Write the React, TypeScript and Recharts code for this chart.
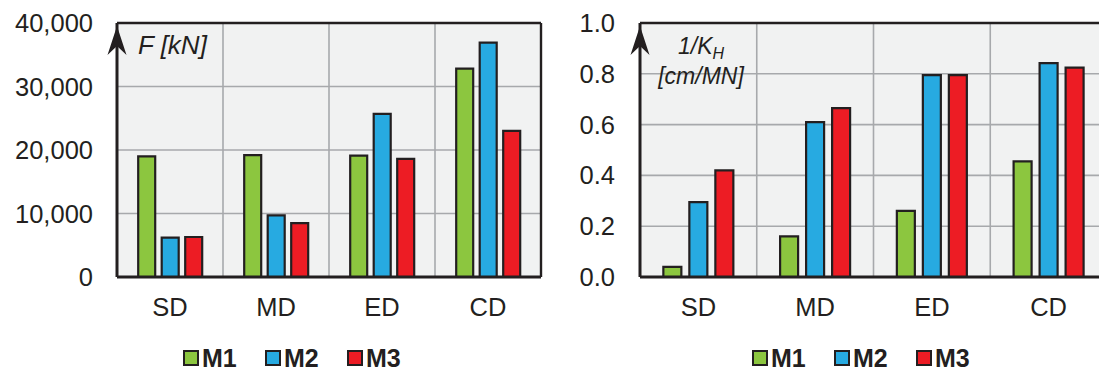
import React from 'react';
import { BarChart, Bar, XAxis, YAxis, CartesianGrid, Legend, ReferenceLine } from 'recharts';

const categories = ['SD', 'MD', 'ED', 'CD'];
const seriesNames = ['M1', 'M2', 'M3'];

const forceM1 = [19000, 19200, 19100, 32800];
const forceM2 = [6200, 9700, 25700, 36900];
const forceM3 = [6300, 8500, 18600, 23000];

const flexM1 = [0.04, 0.16, 0.26, 0.455];
const flexM2 = [0.295, 0.61, 0.795, 0.842];
const flexM3 = [0.42, 0.665, 0.795, 0.824];

const forceTicks = [0, 10000, 20000, 30000, 40000];
const flexTicks = [0, 0.2, 0.4, 0.6, 0.8, 1.0];
const bandEdges = [0, 1, 2, 3, 4];

const forceTitle = 'F [kN]';
const flexTitleMain = '1/K';
const flexTitleSub = 'H';
const flexTitleUnit = '[cm/MN]';

const COLORS = ['#8cc63f', '#27aae1', '#ed1c24'];
const DARK = '#231f20';
const GRID = '#a7a9ac';
const BG = '#f1f2f2';
const FONT = '"Liberation Sans", Arial, sans-serif';

const forceData = categories.map((c, i) => ({ cat: c, M1: forceM1[i], M2: forceM2[i], M3: forceM3[i] }));
const flexData = categories.map((c, i) => ({ cat: c, M1: flexM1[i], M2: flexM2[i], M3: flexM3[i] }));

const arrowPath = (ax: number, top: number) =>
  `M ${ax} ${top + 3} L ${ax + 9.5} ${top + 32} L ${ax} ${top + 23} L ${ax - 9.5} ${top + 32} Z`;

const ForceTitle = (props: any) => {
  const vb = props.viewBox || {};
  const ax = vb.x + vb.width;
  const top = vb.y;
  return (
    <g>
      <path d={arrowPath(ax, top)} fill={DARK} />
      <text x={ax + 21} y={top + 31} fontSize={26} fontStyle="italic" fill={DARK} fontFamily={FONT}>
        {forceTitle}
      </text>
    </g>
  );
};

const FlexTitle = (props: any) => {
  const vb = props.viewBox || {};
  const ax = vb.x + vb.width;
  const top = vb.y;
  return (
    <g>
      <path d={arrowPath(ax, top)} fill={DARK} />
      <text x={ax + 61} y={top + 31} fontSize={23} fontStyle="italic" fill={DARK} textAnchor="middle" fontFamily={FONT}>
        {flexTitleMain}
        <tspan fontSize={16} dy={5}>{flexTitleSub}</tspan>
      </text>
      <text x={ax + 61} y={top + 61} fontSize={23} fontStyle="italic" fill={DARK} textAnchor="middle" fontFamily={FONT}>
        {flexTitleUnit}
      </text>
    </g>
  );
};

const LegendContent = () => (
  <div style={{ display: 'flex', alignItems: 'center', height: 26, fontFamily: FONT }}>
    {seriesNames.map((name, i) => (
      <div key={name} style={{ display: 'flex', alignItems: 'center', width: i < seriesNames.length - 1 ? 82 : 60 }}>
        <div
          style={{
            width: 16,
            height: 16,
            boxSizing: 'border-box',
            border: `2px solid ${DARK}`,
            background: COLORS[i],
            flex: 'none',
          }}
        />
        <span style={{ marginLeft: 3, fontWeight: 'bold', fontSize: 25, color: DARK, lineHeight: '26px' }}>{name}</span>
      </div>
    ))}
  </div>
);

// interior band boundaries only (edges are drawn by the axes / border lines)
const bandGrid = ({ offset }: any) =>
  bandEdges.slice(1, -1).map((e) => offset.left + (offset.width * e) / categories.length);

const makeHorizontalGrid = (ticks: number[], domain: [number, number]) => ({ offset }: any) =>
  ticks
    .slice(1, -1)
    .map((t) => offset.top + offset.height * (1 - (t - domain[0]) / (domain[1] - domain[0])));

type PanelProps = {
  data: any[];
  width: number;
  yAxisWidth: number;
  yTicks: number[];
  yDomain: [number, number];
  yFormatter: (v: number) => string;
  yTickMargin: number;
  barGap: number;
  title: any;
  legendLeft: number;
};

const Panel = ({ data, width, yAxisWidth, yTicks, yDomain, yFormatter, yTickMargin, barGap, title, legendLeft }: PanelProps) => (
  <BarChart
    width={width}
    height={371}
    data={data}
    margin={{ top: 23, right: 19, left: 0, bottom: 18 }}
    barCategoryGap="20%"
    barGap={barGap}
  >
    <CartesianGrid
      fill={BG}
      stroke={GRID}
      strokeWidth={1.6}
      verticalCoordinatesGenerator={bandGrid}
      horizontalCoordinatesGenerator={makeHorizontalGrid(yTicks, yDomain)}
    />
    <ReferenceLine y={yDomain[1]} stroke={DARK} strokeWidth={2.4} ifOverflow="visible" />
    <ReferenceLine
      x={categories[categories.length - 1]}
      position="end"
      stroke={DARK}
      strokeWidth={2.4}
      ifOverflow="visible"
    />
    {seriesNames.map((name, i) => (
      <Bar key={name} dataKey={name} fill={COLORS[i]} stroke={DARK} strokeWidth={2.2} isAnimationActive={false} />
    ))}
    <XAxis
      dataKey="cat"
      height={50}
      tickLine={false}
      tickSize={0}
      tickMargin={21}
      interval={0}
      axisLine={{ stroke: DARK, strokeWidth: 3 }}
      tick={{ fontSize: 25.5, fill: DARK }}
    />
    <YAxis
      width={yAxisWidth}
      type="number"
      domain={yDomain}
      ticks={yTicks}
      interval={0}
      tickFormatter={yFormatter}
      tickLine={false}
      tickSize={0}
      tickMargin={yTickMargin}
      axisLine={{ stroke: DARK, strokeWidth: 3 }}
      tick={{ fontSize: 25.5, fill: DARK }}
      label={title}
    />
    <Legend content={<LegendContent />} wrapperStyle={{ left: legendLeft, top: 345, width: 260, height: 26 }} />
  </BarChart>
);

export default function App() {
  return (
    <div style={{ position: 'fixed', left: 0, top: 0, width: 1099, height: 371, overflow: 'hidden', fontFamily: FONT, background: '#fff' }}>
      <div style={{ position: 'absolute', left: 0, top: 0 }}>
        <Panel
          data={forceData}
          width={560}
          yAxisWidth={117}
          yTicks={forceTicks}
          yDomain={[0, 40000]}
          yFormatter={(v) => v.toLocaleString('en-US')}
          yTickMargin={24}
          barGap={6.5}
          title={ForceTitle}
          legendLeft={183}
        />
      </div>
      <div style={{ position: 'absolute', left: 560, top: 0 }}>
        <Panel
          data={flexData}
          width={566}
          yAxisWidth={80}
          yTicks={flexTicks}
          yDomain={[0, 1]}
          yFormatter={(v) => v.toFixed(1)}
          yTickMargin={25}
          barGap={8}
          title={FlexTitle}
          legendLeft={192}
        />
      </div>
    </div>
  );
}
